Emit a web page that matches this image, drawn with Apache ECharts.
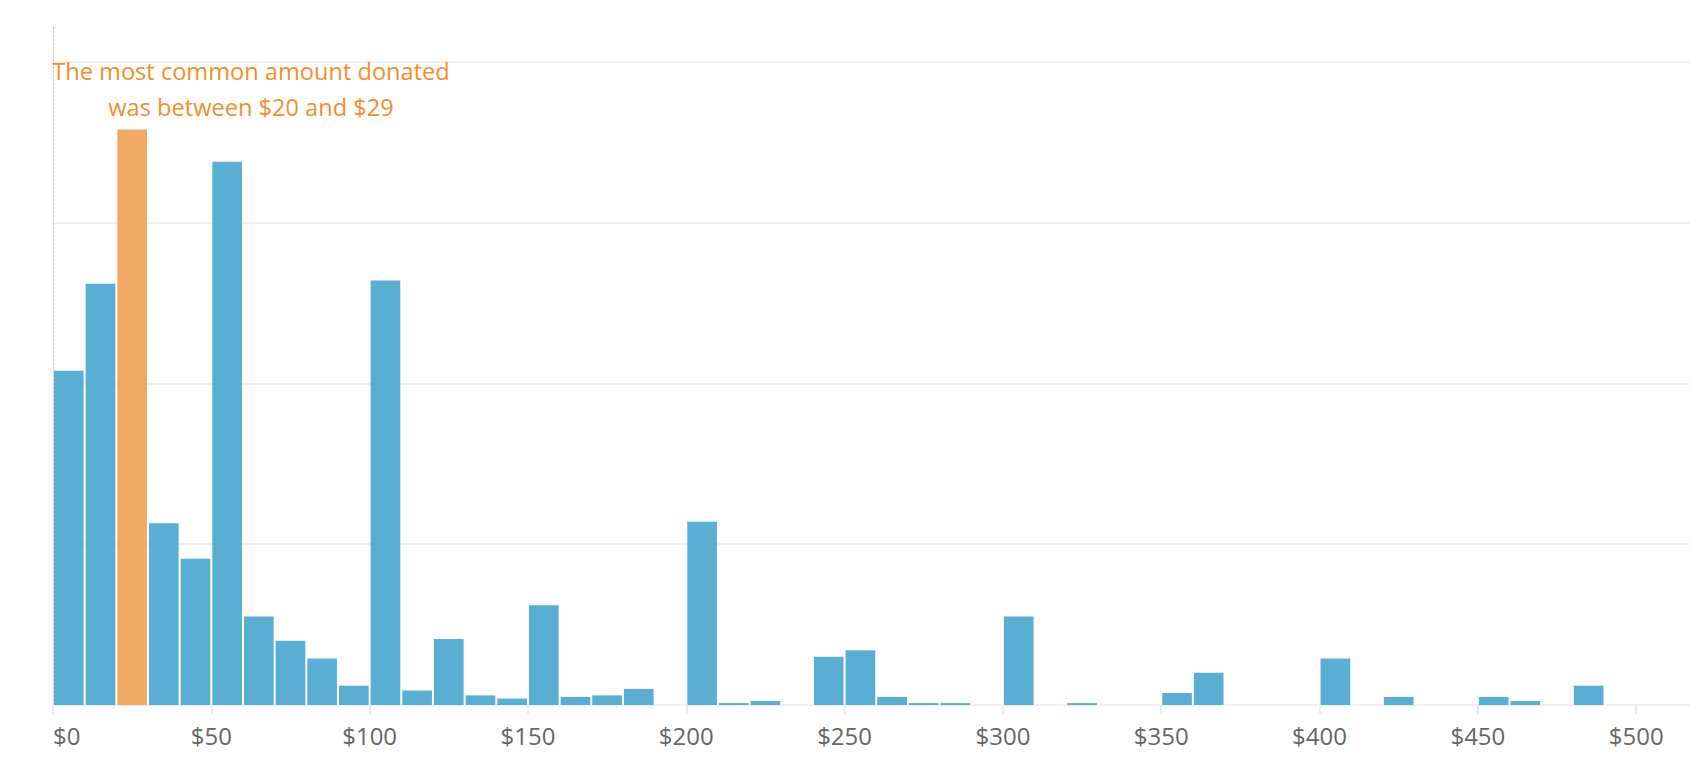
<!DOCTYPE html>
<html>
<head>
<meta charset="utf-8">
<script src="https://cdn.jsdelivr.net/npm/echarts@6/dist/echarts.min.js"></script>
<style>
  html, body { margin: 0; padding: 0; background: #ffffff; }
  #chart { width: 1690px; height: 770px; }
</style>
</head>
<body>
<div id="chart"></div>
<script>
// Histogram bins (start of each $10 bin)
const binStarts = [0, 10, 20, 30, 40, 50, 60, 70, 80, 90,
                   100, 110, 120, 130, 140, 150, 160, 170, 180, 190,
                   200, 210, 220, 230, 240, 250, 260, 270, 280, 290,
                   300, 310, 320, 330, 340, 350, 360, 370, 380, 390,
                   400, 410, 420, 430, 440, 450, 460, 470, 480, 490];
const binWidth = 10;
// Number of donations in each bin
const counts = [208, 262, 358, 113, 91, 338, 55, 40, 29, 12,
                264, 9, 41, 6, 4, 62, 5, 6, 10, 0,
                114, 1.2, 2.5, 0, 30, 34, 5, 1.2, 1.2, 0,
                55, 0, 1.2, 0, 0, 7.5, 20, 0, 0, 0,
                29, 0, 5, 0, 0, 5, 2.5, 0, 12, 0];
const highlightBin = 20;
const xTickValues = [0, 50, 100, 150, 200, 250, 300, 350, 400, 450, 500];
const annotationLines = ['The most common amount donated', 'was between $20 and $29'];

const chart = echarts.init(document.getElementById('chart'), null, { renderer: 'svg' });
const data = binStarts.map((s, i) => [s, counts[i]]);

const option = {
  animation: false,
  backgroundColor: '#ffffff',
  grid: { left: 53, right: 0, top: 25, bottom: 65 },
  xAxis: {
    type: 'value', min: 0, max: 517, interval: 50,
    axisLine: { show: true, onZero: false, lineStyle: { color: '#ebebeb', width: 1.5 } },
    axisTick: { show: true, length: 9, customValues: xTickValues, lineStyle: { color: '#ebebeb', width: 2 } },
    axisLabel: {
      customValues: xTickValues,
      formatter: v => '$' + v,
      color: '#666666', fontFamily: 'Open Sans', fontSize: 24, margin: 18,
      alignMinLabel: 'left'
    },
    splitLine: { show: false }
  },
  yAxis: {
    type: 'value', min: 0, max: 423, interval: 100,
    axisLine: { show: true, lineStyle: { color: '#c4c4c4', type: [2, 2], width: 1 } },
    axisTick: { show: false },
    axisLabel: { show: false },
    splitLine: { show: true, showMinLine: false, showMaxLine: false, lineStyle: { color: '#f0f0f0', width: 2 } }
  },
  graphic: [{
    type: 'text', x: 251, y: 53, z: 10,
    style: {
      text: annotationLines.join('\n'),
      textAlign: 'center', textVerticalAlign: 'top',
      fontFamily: 'Open Sans', fontSize: 23.6, lineHeight: 36,
      fill: '#f28e2b'
    }
  }],
  series: [{
    type: 'custom',
    data: data,
    renderItem: function (params, api) {
      const start = api.value(0);
      const count = api.value(1);
      if (!count) return null;
      const p0 = api.coord([start, count]);
      const p1 = api.coord([start + binWidth, 0]);
      const isHi = start === highlightBin;
      return {
        type: 'rect',
        shape: { x: p0[0] + 1, y: p0[1], width: p1[0] - p0[0] - 2, height: p1[1] - p0[1] },
        style: { fill: isHi ? '#efa258' : '#4fa8d0', opacity: 0.93 }
      };
    }
  }]
};
chart.setOption(option);
</script>
</body>
</html>
